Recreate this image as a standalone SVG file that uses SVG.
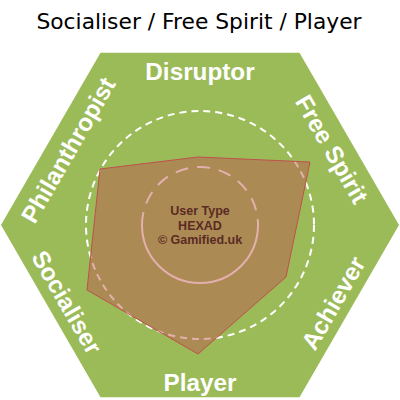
<svg xmlns="http://www.w3.org/2000/svg" width="400" height="400" viewBox="0 0 400 400">
<style>
.title{font-family:"DejaVu Sans",Verdana,sans-serif;font-size:21.8px;fill:#000}
.lab{font-family:"Liberation Sans",Arial,sans-serif;font-weight:bold;font-size:24.3px;fill:#fff;text-anchor:middle}
.ctr{font-family:"Liberation Sans",Arial,sans-serif;font-weight:bold;font-size:12.5px;fill:#5a2a24;text-anchor:middle}
</style>
<rect width="400" height="400" fill="#fff"/>
<text class="title" x="199" y="29" text-anchor="middle">Socialiser / Free Spirit / Player</text>
<g id="hexagon">
<polygon points="100.5,52.7 299.5,52.7 399,225 299.5,397.3 100.5,397.3 1,225" fill="#9bbb59"/>
</g>
<g id="guides" fill="none" stroke="#fff" stroke-width="2">
<circle cx="200" cy="225" r="114" stroke-dasharray="7,5"/>
<path d="M142,225 A58,58 0 0 1 258,225" stroke-dasharray="13,9"/>
<path d="M142,225 A58,58 0 0 0 258,225"/>
</g>
<g id="profile">
<polygon points="198,157 310,162 286,277 198,354 87,290 100,169" fill="#c0504d" fill-opacity="0.45" stroke="#c0504d" stroke-width="1"/>
</g>
<g id="disruptor"><text class="lab" x="200" y="71" dy="0.36em">Disruptor</text></g>
<g id="player"><text class="lab" x="200" y="382" dy="0.36em">Player</text></g>
<g id="philanthropist"><text class="lab" transform="translate(68,150) rotate(-60)" dy="0.36em">Philanthropist</text></g>
<g id="freespirit"><text class="lab" transform="translate(332,149) rotate(60)" dy="0.36em">Free Spirit</text></g>
<g id="achiever"><text class="lab" transform="translate(333,303) rotate(-60)" dy="0.36em">Achiever</text></g>
<g id="socialiser"><text class="lab" transform="translate(67,302) rotate(60)" dy="0.36em">Socialiser</text></g>
<g id="center">
<text class="ctr" x="200" y="215">User Type</text>
<text class="ctr" x="200" y="229.5">HEXAD</text>
<text class="ctr" x="200" y="244">© Gamified.uk</text>
</g>
</svg>
